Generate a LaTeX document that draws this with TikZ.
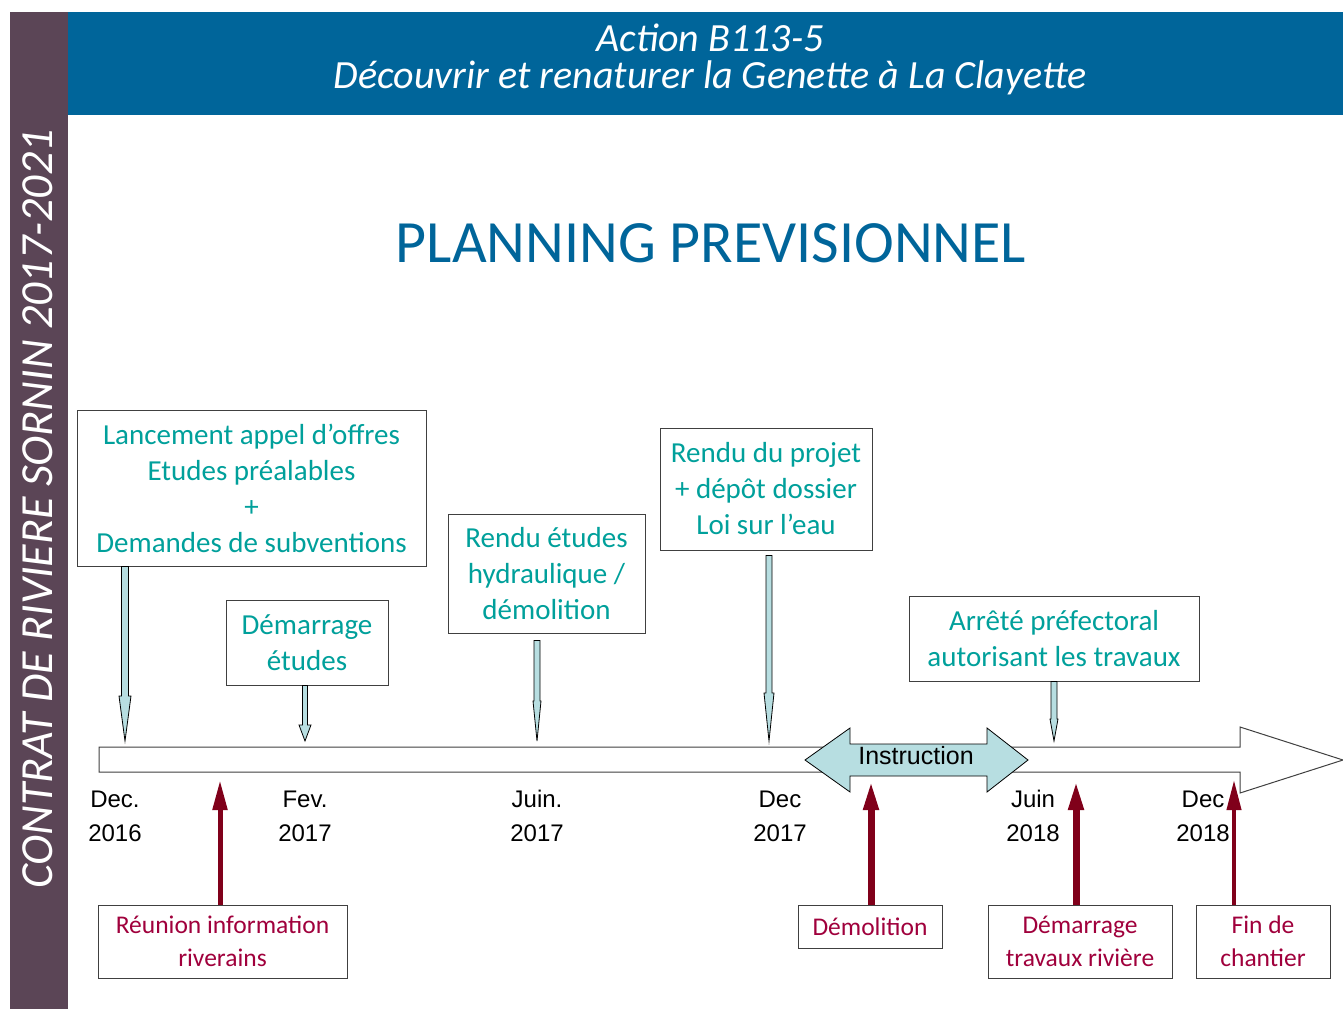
\documentclass[tikz,border=0pt]{standalone}
\usepackage{fontspec}
\setmainfont{Carlito}
\newfontfamily\arialfont{Liberation Sans}
\usetikzlibrary{arrows.meta, positioning, calc}
\definecolor{headblue}{HTML}{00659A}
\definecolor{bandplum}{HTML}{5B4556}
\definecolor{tealtext}{HTML}{00A09B}
\definecolor{wine}{HTML}{A0003C}
\definecolor{darkred}{HTML}{80001A}
\definecolor{paleblue}{HTML}{B7DEE1}
\definecolor{boxgrey}{HTML}{404040}
\tikzset{
  stepbox/.style={draw=boxgrey, fill=white, line width=1pt, inner sep=0pt,
                  align=center, text=tealtext, font=\fontsize{29}{36}\selectfont},
  eventbox/.style={draw=boxgrey, fill=white, line width=1pt, inner sep=0pt,
                   align=center, text=wine, font=\fontsize{25.5}{33}\selectfont},
  datelabel/.style={font=\arialfont\fontsize{24}{34}\selectfont, align=center},
  uparr/.style={draw=darkred, line width=#1, -{Triangle[length=30pt, width=14pt]}},
  downarr/.style={draw=black, fill=paleblue, line width=0.8pt},
  timeline/.style={draw=boxgrey, fill=white, line width=1pt},
}
% down block arrow: start, end, half shaft, half head, head length
\newcommand{\downblock}[5]{%
  \path[downarr] let \p1=(#1), \p2=(#2) in
    (\x1-#3,\y1) -- (\x1-#3,\y2+#5) -- (\x1-#4,\y2+#5) -- (\x1,\y2)
    -- (\x1+#4,\y2+#5) -- (\x1+#3,\y2+#5) -- (\x1+#3,\y1) -- cycle;}

\begin{document}
\begin{tikzpicture}[x=1pt, y=-1pt]
  \useasboundingbox (0,0) rectangle (1343,1009);

  % side band and header
  \fill[bandplum] (10,12) rectangle (68,1009);
  \fill[headblue] (68,12) rectangle (1343,115);
  \node[rotate=90, text=white, font=\itshape\fontsize{46}{46}\selectfont] (contrat) at (38,509)
    {CONTRAT DE RIVIERE SORNIN 2017-2021};
  \node[text=white, align=center, font=\itshape\fontsize{40}{37}\selectfont] (action) at (710,59)
    {Action B113-5\\ Découvrir et renaturer la Genette à La Clayette};
  \node[text=headblue, font=\fontsize{60}{60}\selectfont] (title) at (711,243) {PLANNING PREVISIONNEL};

  % timeline
  \path[timeline] (99,747) -- (1240,747) -- (1240,727) -- (1343,760)
    -- (1240,793) -- (1240,772) -- (99,772) -- cycle;
  \path[downarr] (805,760) -- (850,728) -- (850,744) -- (987,744) -- (987,728) -- (1028,760)
    -- (987,792) -- (987,776) -- (850,776) -- (850,792) -- cycle;
  \node[font=\arialfont\fontsize{25}{25}\selectfont] (instr) at (916,756) {Instruction};

  % points on the timeline
  \coordinate (t1) at (125,741);
  \coordinate (t2) at (305,741);
  \coordinate (t3) at (537,741);
  \coordinate (t4) at (769,741);
  \coordinate (t5) at (1054,741);
  \coordinate (r1) at (220,780);
  \coordinate (r2) at (871,780);
  \coordinate (r3) at (1076,780);
  \coordinate (r4) at (1234,780);

  % dates
  \node[datelabel] (d1) at (115,816) {Dec.\\2016};
  \node[datelabel] (d2) at (305,816) {Fev.\\2017};
  \node[datelabel] (d3) at (537,816) {Juin.\\2017};
  \node[datelabel] (d4) at (780,816) {Dec\\2017};
  \node[datelabel] (d5) at (1033,816) {Juin\\2018};
  \node[datelabel] (d6) at (1203,816) {Dec\\2018};

  % study steps (above)
  \node[stepbox, minimum width=349pt, minimum height=156pt] (lanc) at (251.5,488)
    {Lancement appel d'offres\\Etudes préalables\\+\\Demandes de subventions};
  \node[stepbox, minimum width=162pt, minimum height=85pt] (demet) at (307,642.5)
    {Démarrage\\études};
  \node[stepbox, minimum width=197pt, minimum height=119pt] (rendu) at (546.5,573.5)
    {Rendu études\\hydraulique /\\démolition};
  \node[stepbox, minimum width=212pt, minimum height=122pt] (projet) at (766,489)
    {Rendu du projet\\+ dépôt dossier\\Loi sur l'eau};
  \node[stepbox, minimum width=290pt, minimum height=85pt] (arrete) at (1054,638.5)
    {Arrêté préfectoral\\autorisant les travaux};

  \downblock{lanc.south -| t1}{t1}{3.5pt}{6pt}{45pt}
  \downblock{demet.south -| t2}{t2}{2.5pt}{6pt}{16pt}
  \downblock{$(rendu.south -| t3)+(0,7)$}{t3}{3pt}{4pt}{40pt}
  \downblock{$(projet.south -| t4)+(0,5)$}{t4}{3pt}{5pt}{48pt}
  \downblock{arrete.south -| t5}{t5}{3pt}{4pt}{22pt}

  % works (below)
  \node[eventbox, minimum width=249pt, minimum height=73pt] (reun) at (222.5,941.5)
    {Réunion information\\riverains};
  \node[eventbox, minimum width=144pt, minimum height=43pt] (demol) at (870,926.5)
    {Démolition};
  \node[eventbox, minimum width=184pt, minimum height=73pt] (travx) at (1080,941.5)
    {Démarrage\\travaux rivière};
  \node[eventbox, minimum width=134pt, minimum height=73pt] (fin) at (1263,941.5)
    {Fin de\\chantier};

  \draw[uparr=5pt] (reun.north -| r1) -- (r1);
  \draw[uparr=7pt] (demol.north -| r2) -- (r2);
  \draw[uparr=7pt] (travx.north -| r3) -- (r3);
  \draw[uparr=4pt] (fin.north -| r4) -- (r4);
\end{tikzpicture}
\end{document}
